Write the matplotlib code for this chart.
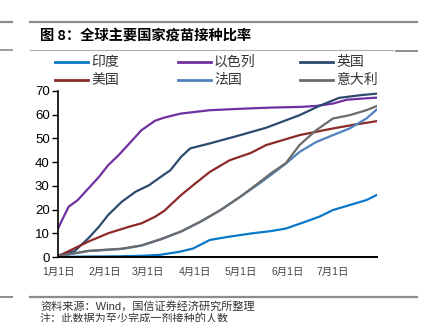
import matplotlib
matplotlib.use("Agg")
import matplotlib.pyplot as plt
from matplotlib.lines import Line2D

plt.rcParams['font.family'] = ['Liberation Sans', 'Noto Sans CJK SC', 'DejaVu Sans']

# share of population with at least one dose (%), x = days since Jan 1
india_days = [0, 20, 40, 55, 67, 80, 89, 100, 113, 128, 140, 150, 163, 172, 181, 192, 203, 210]
india_vals = [0, 0.2, 0.3, 0.5, 0.9, 2.2, 3.6, 7.2, 8.6, 10.0, 10.9, 12.0, 14.9, 17.0, 19.8, 21.9, 24.0, 26.2]

israel_days = [0, 3, 7, 13, 20, 27, 33, 40, 47, 55, 64, 70, 81, 100, 120, 140, 160, 170, 181, 190, 200, 210]
israel_vals = [12.0, 16.0, 21.2, 24.0, 28.9, 33.8, 38.7, 43.0, 47.9, 53.5, 57.5, 58.8, 60.5, 61.9, 62.5, 63.0, 63.3, 63.7, 64.7, 66.3, 66.8, 67.2]

uk_days = [0, 11, 20, 27, 33, 42, 51, 60, 67, 74, 81, 87, 100, 120, 137, 159, 172, 185, 200, 210]
uk_vals = [0.6, 2.5, 7.9, 12.8, 17.7, 23.3, 27.5, 30.3, 33.5, 36.6, 42.2, 45.8, 47.9, 51.4, 54.5, 59.8, 63.7, 67.1, 68.3, 68.9]

us_days = [0, 11, 20, 33, 47, 55, 64, 70, 81, 89, 100, 113, 127, 137, 159, 181, 195, 210]
us_vals = [0.3, 3.7, 6.5, 10.0, 12.8, 14.2, 17.0, 19.5, 26.1, 30.3, 35.9, 40.8, 43.9, 47.2, 51.4, 54.2, 55.8, 57.3]

france_days = [0, 20, 42, 55, 68, 81, 94, 107, 120, 133, 140, 150, 159, 170, 181, 192, 203, 210]
france_vals = [0.3, 2.5, 3.4, 4.8, 7.5, 10.7, 14.9, 19.8, 25.4, 31.2, 34.5, 39.4, 44.3, 48.5, 51.4, 54.2, 58.4, 62.3]

italy_days = [0, 20, 42, 55, 68, 81, 94, 107, 120, 133, 140, 150, 159, 170, 181, 192, 203, 210]
italy_vals = [0.4, 2.6, 3.5, 4.9, 7.6, 10.8, 15.0, 19.8, 25.4, 31.7, 35.2, 39.6, 47.2, 53.5, 58.4, 59.8, 61.9, 63.7]

series_names = ['印度', '以色列', '英国', '美国', '法国', '意大利']
series_colors = ['#0a78c8', '#7030a0', '#2c4a6e', '#8b2a28', '#4f81bd', '#6b6b6b']

tick_days = [0, 31, 59, 90, 120, 151, 181]
tick_labels = ['1月1日', '2月1日', '3月1日', '4月1日', '5月1日', '6月1日', '7月1日']

W, H = 428, 322
fig = plt.figure(figsize=(W / 100, H / 100), dpi=100)


def fx(px):
    return px / W


def fy(py):
    return 1 - py / H


ax = fig.add_axes([fx(58), fy(257), fx(377) - fx(58), fy(91) - fy(257)])

data = [(india_days, india_vals), (israel_days, israel_vals), (uk_days, uk_vals),
        (us_days, us_vals), (france_days, france_vals), (italy_days, italy_vals)]
for i, (d, v) in enumerate(data):
    ax.plot(d, v, color=series_colors[i], lw=1.6, solid_joinstyle='round')

ax.set_xlim(0, 210)
ax.set_ylim(0, 70)
ax.set_yticks(range(0, 71, 10))
ax.set_xticks(tick_days)
ax.set_xticklabels(tick_labels, fontsize=7.5, color='#444444')
ax.tick_params(axis='x', length=0, pad=7)
ax.tick_params(axis='y', length=4, width=1, labelsize=9.5, pad=2, direction='out')
for s in ['top', 'right']:
    ax.spines[s].set_visible(False)
ax.spines['left'].set_linewidth(1.2)
ax.spines['bottom'].set_linewidth(1.4)

# legend, two rows of three
leg_x = [55, 178, 300]
leg_y = [62, 80]
for k, name in enumerate(series_names):
    col, row = k % 3, k // 3
    x0, y0 = leg_x[col], leg_y[row]
    fig.add_artist(Line2D([fx(x0), fx(x0 + 33)], [fy(y0), fy(y0)], color=series_colors[k], lw=2))
    fig.text(fx(x0 + 36), fy(y0), name, fontsize=10, va='center', ha='left',
             family=['Noto Sans CJK SC'], fontweight='light', color='#333333')

# rules around the title and source
rule = '#8c8c8c'
fig.add_artist(Line2D([fx(0), fx(12)], [fy(22), fy(22)], color=rule, lw=1.6))
fig.add_artist(Line2D([fx(30), fx(417)], [fy(22), fy(22)], color=rule, lw=1.6))
fig.add_artist(Line2D([fx(0), fx(12)], [fy(50), fy(50)], color=rule, lw=1.2))
fig.add_artist(Line2D([fx(30), fx(393)], [fy(50), fy(50)], color='#b0b0b0', lw=0.8))
fig.add_artist(Line2D([fx(396), fx(417)], [fy(51), fy(51)], color=rule, lw=1.4))
fig.add_artist(Line2D([fx(0), fx(12)], [fy(297), fy(297)], color=rule, lw=1.4))
fig.add_artist(Line2D([fx(30), fx(417)], [fy(297), fy(297)], color=rule, lw=1.6))

fig.text(fx(40), fy(36), '图 8：全球主要国家疫苗接种比率', fontsize=10.3, fontweight='bold',
         va='center', ha='left', family=['Noto Sans CJK SC'])
fig.text(fx(40), fy(306), '资料来源：Wind，国信证券经济研究所整理', fontsize=8,
         va='center', ha='left', color='#333333')
fig.text(fx(40), fy(318), '注：此数据为至少完成一剂接种的人数', fontsize=8,
         va='center', ha='left', color='#333333')

fig.savefig('out.png', dpi=100)
